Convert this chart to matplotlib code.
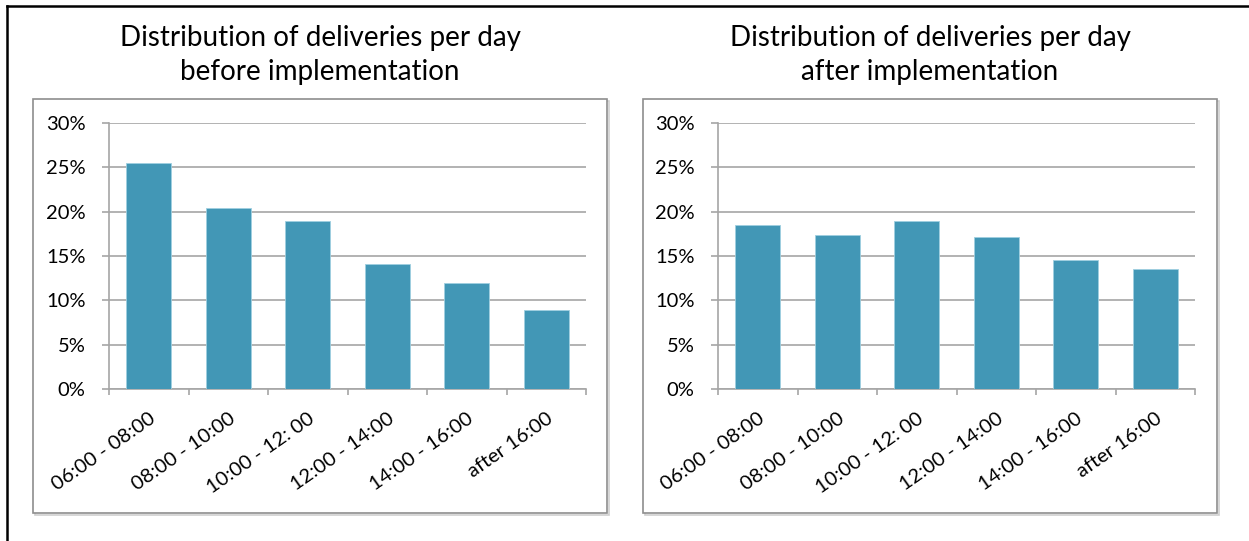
import matplotlib
matplotlib.use('Agg')
import matplotlib.pyplot as plt
import matplotlib.ticker as mticker
from matplotlib.lines import Line2D
from matplotlib.patches import Rectangle

plt.rcParams['font.family'] = ['Lato', 'DejaVu Sans']

time_slots = ['06:00 - 08:00', '08:00 - 10:00', '10:00 - 12: 00',
              '12:00 - 14:00', '14:00 - 16:00', 'after 16:00']
share_before = [0.255, 0.204, 0.190, 0.141, 0.120, 0.089]
share_after = [0.185, 0.174, 0.190, 0.171, 0.145, 0.135]
titles = ['Distribution of deliveries per day\nbefore implementation',
          'Distribution of deliveries per day\nafter implementation']

W, H = 1249, 541
BAR = '#4297b6'
GRID = '#a6a6a6'


def fx(px):
    return px / W


def fy(py):
    return 1 - py / H


fig = plt.figure(figsize=(W / 100, H / 100), dpi=100)
fig.patch.set_facecolor('white')

# outer frame (top and left edges only)
fig.add_artist(Line2D([fx(7), 1], [fy(6), fy(6)], color='black', lw=1.8))
fig.add_artist(Line2D([fx(7), fx(7)], [fy(6), 0], color='black', lw=1.8))

boxes = [(33, 607), (643, 1217)]
axes_x = [(109, 586), (718, 1195)]

for k, values in enumerate([share_before, share_after]):
    bx0, bx1 = boxes[k]
    # panel frame with a faint shadow, kept behind the axes
    fig.add_artist(Rectangle((fx(bx0 + 1.5), fy(513 + 1.5)), fx(bx1 - bx0), fy(99) - fy(513),
                             transform=fig.transFigure, facecolor='none',
                             edgecolor='#cfcfcf', lw=1.2, zorder=-2))
    fig.add_artist(Rectangle((fx(bx0), fy(513)), fx(bx1 - bx0), fy(99) - fy(513),
                             transform=fig.transFigure, facecolor='white',
                             edgecolor='#8e8e8e', lw=1.2, zorder=-1))
    fig.text(fx((bx0 + bx1) / 2), fy(55), titles[k], ha='center', va='center',
             fontsize=20, linespacing=1.35, color='black')

    ax0, ax1 = axes_x[k]
    ax = fig.add_axes([fx(ax0), fy(389), fx(ax1 - ax0), fy(123) - fy(389)])
    ax.set_facecolor('none')
    pos = range(len(time_slots))
    ax.bar(pos, values, width=0.56, color=BAR, edgecolor='#9fcfe0', linewidth=0.6,
           zorder=3)
    ax.set_xlim(-0.5, len(time_slots) - 0.5)
    ax.set_ylim(0, 0.30)
    ax.set_yticks([i * 0.05 for i in range(7)])
    ax.yaxis.set_major_formatter(mticker.PercentFormatter(1.0, decimals=0))
    ax.grid(axis='y', color=GRID, lw=1.2, zorder=0)
    ax.set_axisbelow(True)

    for s in ['top', 'right']:
        ax.spines[s].set_visible(False)
    for s in ['left', 'bottom']:
        ax.spines[s].set_color(GRID)
        ax.spines[s].set_linewidth(1.2)

    ax.set_xticks(list(pos))
    ax.set_xticks([i - 0.5 for i in range(len(time_slots) + 1)], minor=True)
    ax.set_xticklabels(time_slots, rotation=35, ha='right', va='top',
                       rotation_mode='anchor', fontsize=14.5)
    ax.tick_params(axis='x', which='major', length=0, pad=15)
    ax.tick_params(axis='x', which='minor', length=4, width=1.2, color=GRID)
    ax.tick_params(axis='y', length=5, width=1.2, color=GRID, pad=12, labelsize=14.5)

fig.savefig('out.png', dpi=100, facecolor='white')
